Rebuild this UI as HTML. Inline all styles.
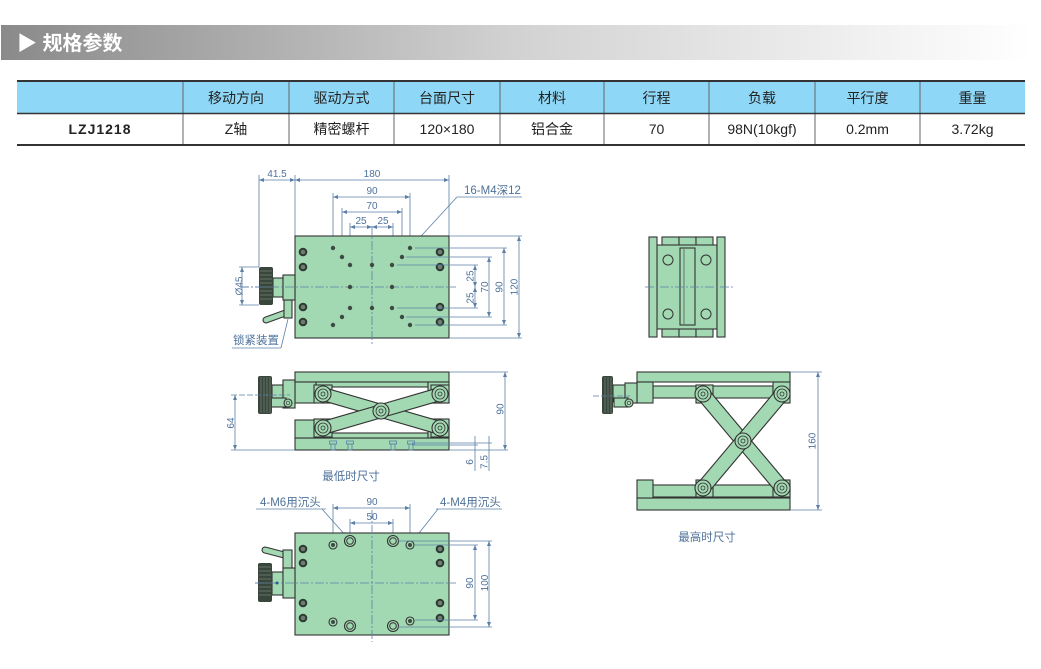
<!DOCTYPE html>
<html><head><meta charset="utf-8"><style>
html,body{margin:0;padding:0;background:#fff;}
svg{display:block;}
text{font-family:"Liberation Sans","Noto Sans CJK SC",sans-serif;}
.d{stroke:#5b7fa6;stroke-width:0.8;fill:none;}
.da{stroke:#5b7fa6;stroke-width:0.8;fill:none;marker-start:url(#ar);marker-end:url(#ar);}
.de{stroke:#5b7fa6;stroke-width:0.8;fill:none;marker-end:url(#ar);}
.c{stroke:#5b7fa6;stroke-width:0.8;fill:none;stroke-dasharray:9 2 2 2;}
.t{fill:#4f729a;font-size:10px;}
.l{fill:#4f729a;font-size:11.5px;}
.g{fill:#a2d9b2;stroke:#333;stroke-width:1.1;}
.k{fill:#38463c;}
.kl{stroke:#6f7f74;stroke-width:0.8;}
.th{fill:#222;font-size:14px;}
</style></head><body>
<svg width="1041" height="669" viewBox="0 0 1041 669" xmlns="http://www.w3.org/2000/svg">
<defs>
<linearGradient id="hg" x1="0" x2="1" y1="0" y2="0">
<stop offset="0" stop-color="#8a8a8a"/>
<stop offset="0.5" stop-color="#d2d2d2"/>
<stop offset="1" stop-color="#ffffff"/>
</linearGradient>
<marker id="ar" viewBox="0 0 10 10" refX="10" refY="5" markerWidth="6" markerHeight="5" orient="auto-start-reverse" markerUnits="userSpaceOnUse"><path d="M0,1 L10,5 L0,9 z" fill="#5b7fa6"/></marker>
</defs>

<!-- header bar -->
<rect x="1" y="25" width="1031" height="35" fill="url(#hg)"/>
<text x="17" y="50" fill="#fff" font-size="20" font-weight="bold">▶ 规格参数</text>

<!-- table -->
<rect x="17" y="81" width="1008" height="33" fill="#8fd7f6"/>
<g stroke="#666" stroke-width="1">
<line x1="183" y1="81" x2="183" y2="145"/><line x1="289" y1="81" x2="289" y2="145"/>
<line x1="394" y1="81" x2="394" y2="145"/><line x1="500" y1="81" x2="500" y2="145"/>
<line x1="604" y1="81" x2="604" y2="145"/><line x1="709" y1="81" x2="709" y2="145"/>
<line x1="815" y1="81" x2="815" y2="145"/><line x1="920" y1="81" x2="920" y2="145"/>
</g>
<line x1="17" y1="81" x2="1025" y2="81" stroke="#333" stroke-width="2"/>
<line x1="17" y1="113.5" x2="1025" y2="113.5" stroke="#333" stroke-width="1.5"/>
<line x1="17" y1="145" x2="1025" y2="145" stroke="#333" stroke-width="2"/>
<g text-anchor="middle" class="th">
<text x="236" y="103" class="th">移动方向</text>
<text x="341.5" y="103" class="th">驱动方式</text>
<text x="447" y="103" class="th">台面尺寸</text>
<text x="552" y="103" class="th">材料</text>
<text x="656.5" y="103" class="th">行程</text>
<text x="762" y="103" class="th">负载</text>
<text x="867.5" y="103" class="th">平行度</text>
<text x="972.5" y="103" class="th">重量</text>
<text x="100" y="134" class="th" font-weight="bold" letter-spacing="1">LZJ1218</text>
<text x="236" y="134" class="th">Z轴</text>
<text x="341.5" y="134" class="th">精密螺杆</text>
<text x="447" y="134" class="th">120×180</text>
<text x="552" y="134" class="th">铝合金</text>
<text x="656.5" y="134" class="th">70</text>
<text x="762" y="134" class="th">98N(10kgf)</text>
<text x="867.5" y="134" class="th">0.2mm</text>
<text x="972.5" y="134" class="th">3.72kg</text>
</g>

<!-- ================= TOP VIEW ================= -->
<line class="d" x1="295" y1="175" x2="295" y2="236"/>
<line class="d" x1="449" y1="175" x2="449" y2="236"/>
<line class="d" x1="259" y1="175" x2="259" y2="267"/>
<line class="da" x1="259" y1="180" x2="295" y2="180"/>
<line class="da" x1="295" y1="180" x2="449" y2="180"/>
<text class="t" x="277" y="177" text-anchor="middle">41.5</text>
<text class="t" x="372" y="177" text-anchor="middle">180</text>
<line class="d" x1="333" y1="193" x2="333" y2="246"/>
<line class="d" x1="410" y1="193" x2="410" y2="246"/>
<line class="da" x1="333" y1="197" x2="410" y2="197"/>
<text class="t" x="372" y="194" text-anchor="middle">90</text>
<line class="d" x1="342" y1="208" x2="342" y2="255"/>
<line class="d" x1="402" y1="208" x2="402" y2="255"/>
<line class="da" x1="342" y1="212" x2="402" y2="212"/>
<text class="t" x="372" y="209" text-anchor="middle">70</text>
<line class="d" x1="350" y1="223" x2="350" y2="263"/>
<line class="d" x1="393" y1="223" x2="393" y2="263"/>
<line class="da" x1="350" y1="227" x2="372" y2="227"/>
<line class="da" x1="372" y1="227" x2="393" y2="227"/>
<text class="t" x="361" y="224" text-anchor="middle">25</text>
<text class="t" x="383" y="224" text-anchor="middle">25</text>
<text class="l" x="464" y="194">16-M4深12</text>
<line class="d" x1="457" y1="197" x2="522" y2="197"/>
<line class="de" x1="457" y1="197" x2="412" y2="246"/>

<rect class="g" x="295" y="236" width="154" height="102"/>
<line class="c" x1="372" y1="226" x2="372" y2="346"/>
<line class="c" x1="240" y1="287" x2="456" y2="287"/>
<g fill="#3d4a42">
<circle cx="333" cy="248" r="2.2"/><circle cx="342" cy="257" r="2.2"/><circle cx="350" cy="265" r="2.2"/>
<circle cx="372" cy="265" r="2.2"/><circle cx="392" cy="265" r="2.2"/><circle cx="402" cy="257" r="2.2"/>
<circle cx="410" cy="248" r="2.2"/><circle cx="350" cy="287" r="2.2"/><circle cx="392" cy="287" r="2.2"/>
<circle cx="350" cy="308" r="2.2"/><circle cx="372" cy="308" r="2.2"/><circle cx="392" cy="308" r="2.2"/>
<circle cx="342" cy="317" r="2.2"/><circle cx="333" cy="325" r="2.2"/><circle cx="402" cy="317" r="2.2"/>
<circle cx="410" cy="325" r="2.2"/>
</g>
<g fill="#2e3832">
<circle cx="303" cy="252" r="4.3"/><circle cx="303" cy="267" r="4.3"/><circle cx="303" cy="307" r="4.3"/><circle cx="303" cy="322" r="4.3"/>
<circle cx="440" cy="252" r="4.3"/><circle cx="440" cy="267" r="4.3"/><circle cx="440" cy="307" r="4.3"/><circle cx="440" cy="322" r="4.3"/>
</g>
<g fill="#6d7d72">
<circle cx="303" cy="252" r="2.3"/><circle cx="303" cy="267" r="2.3"/><circle cx="303" cy="307" r="2.3"/><circle cx="303" cy="322" r="2.3"/>
<circle cx="440" cy="252" r="2.3"/><circle cx="440" cy="267" r="2.3"/><circle cx="440" cy="307" r="2.3"/><circle cx="440" cy="322" r="2.3"/>
</g>
<line class="d" x1="449" y1="236" x2="522" y2="236"/>
<line class="d" x1="449" y1="338" x2="522" y2="338"/>
<line class="da" x1="519" y1="236" x2="519" y2="338"/>
<line class="d" x1="415" y1="248" x2="507" y2="248"/>
<line class="d" x1="415" y1="325" x2="507" y2="325"/>
<line class="da" x1="504" y1="248" x2="504" y2="325"/>
<line class="d" x1="406" y1="257" x2="492" y2="257"/>
<line class="d" x1="406" y1="317" x2="492" y2="317"/>
<line class="da" x1="489" y1="257" x2="489" y2="317"/>
<line class="d" x1="397" y1="265" x2="478" y2="265"/>
<line class="d" x1="397" y1="308" x2="478" y2="308"/>
<line class="da" x1="475" y1="265" x2="475" y2="287"/>
<line class="da" x1="475" y1="287" x2="475" y2="308"/>
<text class="t" transform="translate(517.5,287) rotate(-90)" text-anchor="middle">120</text>
<text class="t" transform="translate(502.5,287) rotate(-90)" text-anchor="middle">90</text>
<text class="t" transform="translate(488,287) rotate(-90)" text-anchor="middle">70</text>
<text class="t" transform="translate(473.5,276) rotate(-90)" text-anchor="middle">25</text>
<text class="t" transform="translate(473.5,298) rotate(-90)" text-anchor="middle">25</text>
<line class="d" x1="239" y1="267" x2="259" y2="267"/>
<line class="d" x1="239" y1="305" x2="259" y2="305"/>
<line class="da" x1="242" y1="267" x2="242" y2="305"/>
<text class="t" transform="translate(242.5,286) rotate(-90)" text-anchor="middle">Ø45</text>
<path d="M288,312 L266,320" stroke="#333" stroke-width="7" stroke-linecap="round"/>
<path d="M288,312 L266,320" stroke="#a2d9b2" stroke-width="4.8" stroke-linecap="round"/>
<rect class="g" x="284" y="300" width="8" height="18"/>
<rect class="g" x="273" y="278" width="10" height="19"/>
<rect class="g" x="283" y="275" width="12" height="25"/>
<rect class="k" x="259" y="267" width="14" height="38" rx="2"/>
<g class="kl">
<line x1="260" y1="271" x2="272" y2="271"/><line x1="260" y1="275" x2="272" y2="275"/><line x1="260" y1="279" x2="272" y2="279"/>
<line x1="260" y1="283" x2="272" y2="283"/><line x1="260" y1="287" x2="272" y2="287"/><line x1="260" y1="291" x2="272" y2="291"/>
<line x1="260" y1="295" x2="272" y2="295"/><line x1="260" y1="299" x2="272" y2="299"/>
</g>
<line class="c" x1="240" y1="287" x2="296" y2="287"/>
<text class="l" x="233" y="344">锁紧装置</text>
<line class="d" x1="232" y1="348" x2="281" y2="348"/>
<line class="d" x1="281" y1="348" x2="288" y2="319"/>

<!-- ================= SIDE VIEW (lowest) ================= -->
<rect class="g" x="295" y="372" width="154" height="10"/>
<rect class="g" x="316" y="382" width="112" height="5"/>
<rect class="g" x="295" y="382" width="21" height="21"/>
<rect class="g" x="428" y="382" width="21" height="21"/>
<rect class="g" x="295" y="438" width="154" height="12"/>
<rect class="g" x="316" y="433" width="112" height="5"/>
<rect class="g" x="295" y="420" width="21" height="18"/>
<rect class="g" x="428" y="420" width="21" height="18"/>
<rect class="g" x="314" y="385" width="18" height="18"/>
<rect class="g" x="314" y="419" width="18" height="18"/>
<rect class="g" x="431" y="385" width="18" height="18"/>
<rect class="g" x="431" y="419" width="18" height="18"/>
<path d="M323,394 L440,428" stroke="#333" stroke-width="14"/>
<path d="M323,394 L440,428" stroke="#a2d9b2" stroke-width="11.8"/>
<path d="M323,428 L440,394" stroke="#333" stroke-width="14"/>
<path d="M323,428 L440,394" stroke="#a2d9b2" stroke-width="11.8"/>
<g class="g">
<circle cx="323" cy="394" r="8"/><circle cx="440" cy="394" r="8"/><circle cx="381" cy="411" r="8"/>
<circle cx="323" cy="428" r="8"/><circle cx="440" cy="428" r="8"/>
</g>
<g fill="none" stroke="#333" stroke-width="0.8">
<circle cx="323" cy="394" r="5"/><circle cx="440" cy="394" r="5"/><circle cx="381" cy="411" r="5"/>
<circle cx="323" cy="428" r="5"/><circle cx="440" cy="428" r="5"/>
<circle cx="323" cy="394" r="2"/><circle cx="440" cy="394" r="2"/><circle cx="381" cy="411" r="2"/>
<circle cx="323" cy="428" r="2"/><circle cx="440" cy="428" r="2"/>
</g>
<g class="d">
<rect x="329.5" y="441" width="7" height="3"/><rect x="331" y="444" width="4" height="6"/>
<rect x="346.5" y="441" width="7" height="3"/><rect x="348" y="444" width="4" height="6"/>
<rect x="389.5" y="441" width="7" height="3"/><rect x="391" y="444" width="4" height="6"/>
<rect x="407.5" y="441" width="7" height="3"/><rect x="409" y="444" width="4" height="6"/>
</g>
<rect class="g" x="272" y="385" width="11" height="18"/>
<rect class="g" x="283" y="380" width="12" height="28"/>
<rect class="g" x="262" y="398" width="24" height="9"/>
<circle class="g" cx="288" cy="403" r="4"/>
<circle cx="288" cy="403" r="1.8" fill="none" stroke="#333" stroke-width="0.7"/>
<rect class="k" x="258" y="376" width="14" height="38" rx="2"/>
<g class="kl">
<line x1="261" y1="377" x2="261" y2="413"/><line x1="264" y1="377" x2="264" y2="413"/>
<line x1="267" y1="377" x2="267" y2="413"/><line x1="270" y1="377" x2="270" y2="413"/>
</g>
<line class="d" x1="231" y1="395" x2="290" y2="395" stroke-dasharray="6 2"/>
<line class="d" x1="231" y1="450" x2="295" y2="450"/>
<line class="da" x1="235" y1="395" x2="235" y2="450"/>
<text class="t" transform="translate(234,423) rotate(-90)" text-anchor="middle">64</text>
<line class="d" x1="449" y1="372" x2="508" y2="372"/>
<line class="d" x1="449" y1="450" x2="508" y2="450"/>
<line class="da" x1="505" y1="372" x2="505" y2="450"/>
<text class="t" transform="translate(503.5,409) rotate(-90)" text-anchor="middle">90</text>
<line class="d" x1="412" y1="443" x2="492" y2="443"/>
<line class="d" x1="412" y1="445" x2="478" y2="445"/>
<line class="d" x1="475" y1="436" x2="475" y2="471"/>
<line class="d" x1="489" y1="436" x2="489" y2="471"/>
<text class="t" transform="translate(473,462) rotate(-90)" text-anchor="middle">6</text>
<text class="t" transform="translate(487.5,462) rotate(-90)" text-anchor="middle">7.5</text>
<text class="l" x="351" y="480" text-anchor="middle">最低时尺寸</text>

<!-- ================= BOTTOM VIEW ================= -->
<text class="l" x="260" y="506">4-M6用沉头</text>
<line class="d" x1="256" y1="509" x2="326" y2="509"/>
<line class="de" x1="322" y1="509" x2="347" y2="537"/>
<text class="l" x="440" y="506">4-M4用沉头</text>
<line class="d" x1="436" y1="509" x2="502" y2="509"/>
<line class="de" x1="438" y1="509" x2="412" y2="542"/>
<line class="d" x1="333" y1="504" x2="333" y2="542"/>
<line class="d" x1="410" y1="504" x2="410" y2="542"/>
<line class="da" x1="333" y1="508" x2="410" y2="508"/>
<text class="t" x="372" y="505" text-anchor="middle">90</text>
<line class="d" x1="350" y1="519" x2="350" y2="536"/>
<line class="d" x1="393" y1="519" x2="393" y2="536"/>
<line class="da" x1="350" y1="523" x2="393" y2="523"/>
<text class="t" x="372" y="520" text-anchor="middle">50</text>
<rect class="g" x="295" y="533" width="154" height="102"/>
<line class="c" x1="372" y1="510" x2="372" y2="642"/>
<line class="c" x1="255" y1="583" x2="456" y2="583"/>
<g fill="#2e3832">
<circle cx="303" cy="549" r="4.3"/><circle cx="303" cy="563" r="4.3"/><circle cx="303" cy="603" r="4.3"/><circle cx="303" cy="618" r="4.3"/>
<circle cx="440" cy="549" r="4.3"/><circle cx="440" cy="563" r="4.3"/><circle cx="440" cy="603" r="4.3"/><circle cx="440" cy="618" r="4.3"/>
</g>
<g fill="#6d7d72">
<circle cx="303" cy="549" r="2.3"/><circle cx="303" cy="563" r="2.3"/><circle cx="303" cy="603" r="2.3"/><circle cx="303" cy="618" r="2.3"/>
<circle cx="440" cy="549" r="2.3"/><circle cx="440" cy="563" r="2.3"/><circle cx="440" cy="603" r="2.3"/><circle cx="440" cy="618" r="2.3"/>
</g>
<g fill="#a2d9b2" stroke="#333" stroke-width="1.1">
<circle cx="333" cy="545" r="4"/><circle cx="410" cy="545" r="4"/><circle cx="333" cy="622" r="4"/><circle cx="410" cy="621" r="4"/>
<circle cx="350" cy="541" r="5.5"/><circle cx="393" cy="541" r="5.5"/><circle cx="350" cy="626" r="5.5"/><circle cx="393" cy="626" r="5.5"/>
</g>
<g fill="#3d4a42">
<circle cx="333" cy="545" r="2"/><circle cx="410" cy="545" r="2"/><circle cx="333" cy="622" r="2"/><circle cx="410" cy="621" r="2"/>
</g>
<g fill="none" stroke="#333" stroke-width="1">
<circle cx="350" cy="541" r="3.3"/><circle cx="393" cy="541" r="3.3"/><circle cx="350" cy="626" r="3.3"/><circle cx="393" cy="626" r="3.3"/>
</g>
<line class="d" x1="398" y1="541" x2="492" y2="541"/>
<line class="d" x1="398" y1="627" x2="492" y2="627"/>
<line class="da" x1="489" y1="541" x2="489" y2="627"/>
<line class="d" x1="415" y1="545" x2="478" y2="545"/>
<line class="d" x1="415" y1="620" x2="478" y2="620"/>
<line class="da" x1="475" y1="545" x2="475" y2="620"/>
<text class="t" transform="translate(488,583) rotate(-90)" text-anchor="middle">100</text>
<text class="t" transform="translate(473,583) rotate(-90)" text-anchor="middle">90</text>
<path d="M288,556 L265,550" stroke="#333" stroke-width="7" stroke-linecap="round"/>
<path d="M288,556 L265,550" stroke="#a2d9b2" stroke-width="4.8" stroke-linecap="round"/>
<rect class="g" x="283" y="550" width="9" height="20"/>
<rect class="g" x="272" y="572" width="11" height="23"/>
<rect class="g" x="283" y="568" width="12" height="30"/>
<rect class="k" x="258" y="563" width="14" height="39" rx="2"/>
<g class="kl">
<line x1="259" y1="567" x2="271" y2="567"/><line x1="259" y1="571" x2="271" y2="571"/><line x1="259" y1="575" x2="271" y2="575"/>
<line x1="259" y1="579" x2="271" y2="579"/><line x1="259" y1="583" x2="271" y2="583"/><line x1="259" y1="587" x2="271" y2="587"/>
<line x1="259" y1="591" x2="271" y2="591"/><line x1="259" y1="595" x2="271" y2="595"/>
</g>
<line class="c" x1="255" y1="583" x2="296" y2="583"/>
<circle cx="277" cy="583" r="1.5" fill="#2a5a9a"/>

<!-- ================= END VIEW ================= -->
<rect class="g" x="662" y="237" width="17" height="9"/>
<rect class="g" x="679" y="237" width="17" height="9"/>
<rect class="g" x="696" y="237" width="17" height="9"/>
<rect class="g" x="662" y="328" width="17" height="9"/>
<rect class="g" x="679" y="328" width="17" height="9"/>
<rect class="g" x="696" y="328" width="17" height="9"/>
<rect class="g" x="657" y="245" width="60" height="84"/>
<rect class="g" x="680" y="248" width="15" height="77"/>
<line x1="684" y1="249" x2="684" y2="324" stroke="#333" stroke-width="0.6"/>
<rect class="g" x="649" y="237" width="8" height="100"/>
<rect class="g" x="717" y="237" width="8" height="100"/>
<g fill="none" stroke="#333" stroke-width="1">
<circle cx="668" cy="260" r="5"/><circle cx="706" cy="260" r="5"/>
<circle cx="668" cy="314" r="5"/><circle cx="706" cy="314" r="5"/>
</g>
<line class="c" x1="645" y1="287" x2="735" y2="287"/>

<!-- ================= TALL VIEW (highest) ================= -->
<rect class="g" x="637" y="372" width="153" height="10"/>
<rect class="g" x="653" y="386" width="120" height="12"/>
<rect class="g" x="637" y="382" width="16" height="21"/>
<rect class="g" x="773" y="382" width="17" height="21"/>
<rect class="g" x="637" y="498" width="153" height="12"/>
<rect class="g" x="653" y="485" width="137" height="12"/>
<rect class="g" x="637" y="480" width="16" height="18"/>
<rect class="g" x="696" y="385" width="17" height="18"/>
<rect class="g" x="696" y="480" width="17" height="17"/>
<rect class="g" x="773" y="480" width="17" height="17"/>
<path d="M703,394 L782,488" stroke="#333" stroke-width="15"/>
<path d="M703,394 L782,488" stroke="#a2d9b2" stroke-width="12.8"/>
<path d="M782,394 L703,488" stroke="#333" stroke-width="15"/>
<path d="M782,394 L703,488" stroke="#a2d9b2" stroke-width="12.8"/>
<g class="g">
<circle cx="703" cy="394" r="8"/><circle cx="782" cy="394" r="8"/><circle cx="743" cy="441" r="8"/>
<circle cx="703" cy="488" r="8"/><circle cx="782" cy="488" r="8"/>
</g>
<g fill="none" stroke="#333" stroke-width="0.8">
<circle cx="703" cy="394" r="5"/><circle cx="782" cy="394" r="5"/><circle cx="743" cy="441" r="5"/>
<circle cx="703" cy="488" r="5"/><circle cx="782" cy="488" r="5"/>
<circle cx="703" cy="394" r="2"/><circle cx="782" cy="394" r="2"/><circle cx="743" cy="441" r="2"/>
<circle cx="703" cy="488" r="2"/><circle cx="782" cy="488" r="2"/>
</g>
<rect class="g" x="613" y="385" width="12" height="17"/>
<rect class="g" x="625" y="383" width="12" height="20"/>
<rect class="g" x="614" y="398" width="14" height="9"/>
<circle class="g" cx="629" cy="403" r="4"/>
<circle cx="629" cy="403" r="1.8" fill="none" stroke="#333" stroke-width="0.7"/>
<rect class="k" x="602" y="376" width="11" height="38" rx="2"/>
<g class="kl">
<line x1="605" y1="377" x2="605" y2="413"/><line x1="608" y1="377" x2="608" y2="413"/><line x1="611" y1="377" x2="611" y2="413"/>
</g>
<line class="d" x1="593" y1="396" x2="630" y2="396" stroke-dasharray="6 2"/>
<line class="d" x1="790" y1="372" x2="822" y2="372"/>
<line class="d" x1="790" y1="510" x2="822" y2="510"/>
<line class="da" x1="818" y1="372" x2="818" y2="510"/>
<text class="t" transform="translate(815.5,441) rotate(-90)" text-anchor="middle">160</text>
<text class="l" x="707" y="541" text-anchor="middle">最高时尺寸</text>
</svg>
</body></html>
